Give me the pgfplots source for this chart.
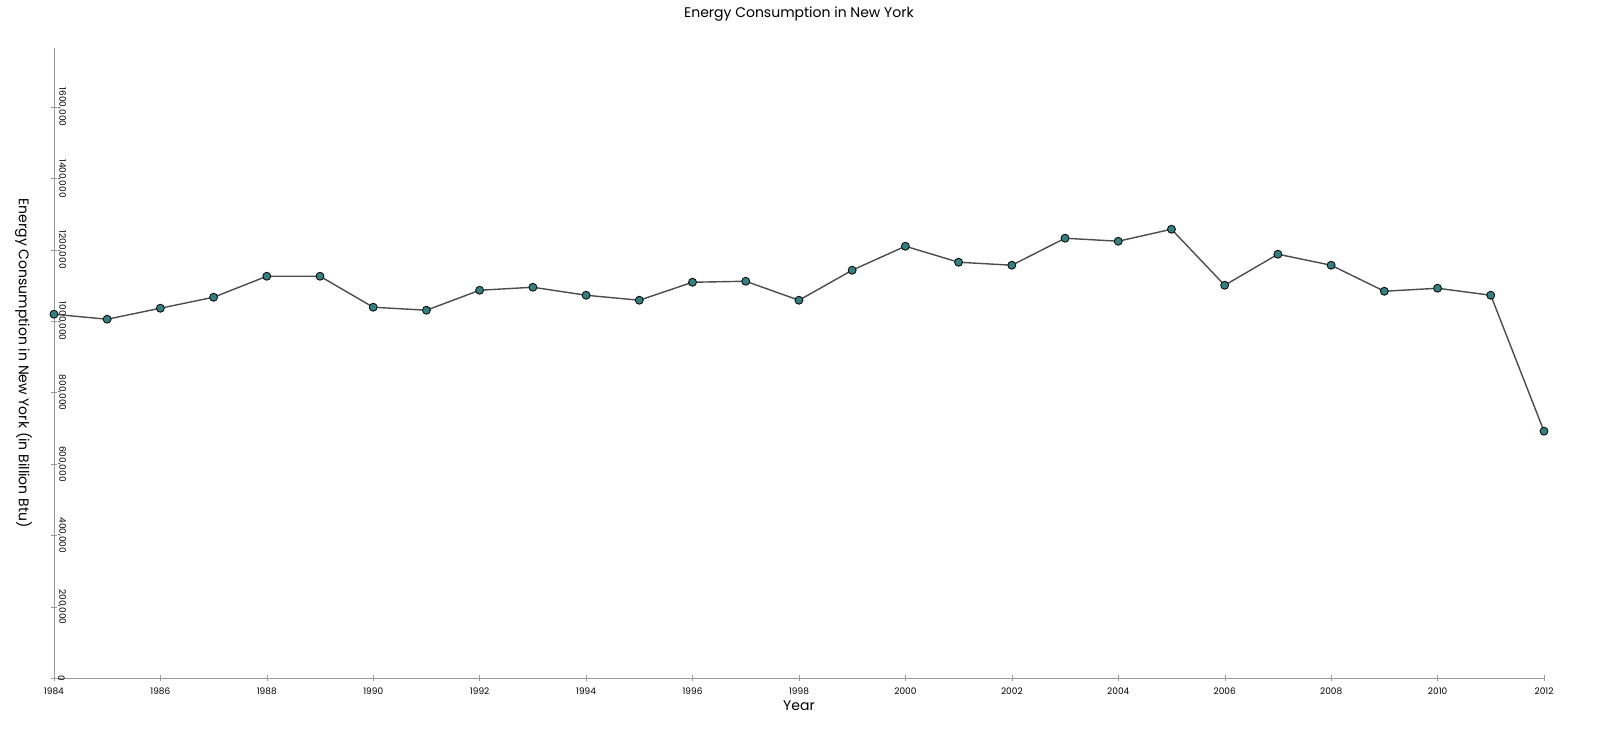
\documentclass[border=0pt]{standalone}
\usepackage{pgfplots}
\pgfplotsset{compat=1.18}
\usepackage{fontspec}
\setmainfont{Poppins}
\begin{document}
\begin{tikzpicture}
\begin{axis}[
  scale only axis, width=745pt, height=315pt,
  xmin=1984, xmax=2012, ymin=0, ymax=1765000,
  axis lines=left, axis line style={gray!80, -},
  xtick={1984,1986,...,2012}, ytick={0,200000,...,1600000},
  xticklabels={1984,1986,1988,1990,1992,1994,1996,1998,2000,2002,2004,2006,2008,2010,2012},
  yticklabels={0,{200,000},{400,000},{600,000},{800,000},{1000,000},{1200,000},{1400,000},{1600,000}},
  x tick label style={font=\fontsize{4.5}{5}\selectfont},
  y tick label style={font=\fontsize{4.5}{5}\selectfont, rotate=-90, anchor=south},
  scaled y ticks=false,
  tick style={gray!80}, major tick length=3pt,
  title={Energy Consumption in New York}, title style={font=\fontsize{7}{8}\selectfont, yshift=4pt},
  xlabel={Year}, ylabel={Energy Consumption in New York (in Billion Btu)},
  xlabel style={font=\fontsize{7}{8}\selectfont, yshift=4pt},
  ylabel style={font=\fontsize{7}{8}\selectfont, rotate=180, yshift=-6pt},
  clip=false,
]
\path (rel axis cs:-0.0362,-0.119) rectangle (rel axis cs:1.047,1.0714);
\addplot[color=black!70, line width=0.7pt, mark=*, mark size=2pt, mark options={fill=teal!60!gray, draw=black, line width=0.4pt}] coordinates {
(1984,1019600)(1985,1005600)(1986,1036400)(1987,1067200)(1988,1126000)(1989,1126000)
(1990,1039200)(1991,1030800)(1992,1086800)(1993,1095200)(1994,1072800)(1995,1058800)
(1996,1109200)(1997,1112000)(1998,1058800)(1999,1142900)(2000,1210100)(2001,1165300)
(2002,1156900)(2003,1232500)(2004,1224100)(2005,1257700)(2006,1100800)(2007,1187700)
(2008,1156900)(2009,1084000)(2010,1092400)(2011,1072800)(2012,691900)};
\end{axis}
\end{tikzpicture}
\end{document}
